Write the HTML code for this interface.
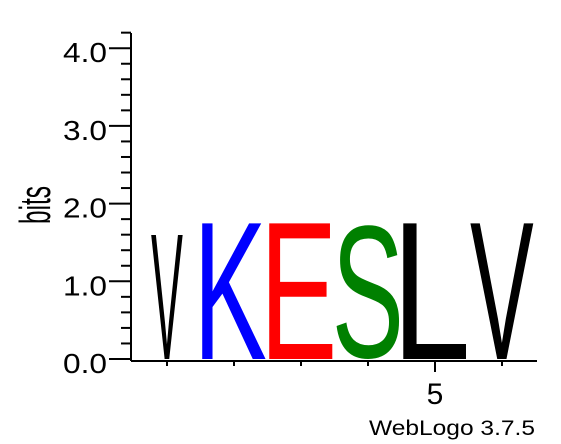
<!DOCTYPE html>
<html><head><meta charset="utf-8"><style>
html,body{margin:0;padding:0;background:#fff;width:561px;height:444px;overflow:hidden}
svg{display:block;font-family:"Liberation Sans",Arial,sans-serif}
</style></head><body>
<svg id="chart" width="561" height="444" viewBox="0 0 561 444">
<g id="axes"></g>
<g id="stacks"></g>
<text x="50" y="205" font-size="44" text-anchor="middle" textLength="38" lengthAdjust="spacingAndGlyphs" transform="rotate(-90 50 205)">bits</text>
<text x="369" y="435" font-size="21" textLength="166" lengthAdjust="spacingAndGlyphs">WebLogo 3.7.5</text>
</svg>
<script>
const positions=[1,2,3,4,5,6];
const letters=["V","K","E","S","L","V"];
const bits=[1.6,1.75,1.75,1.75,1.75,1.75];
const colors=["#000000","#0000ff","#ff0000","#008000","#000000","#000000"];
const yTicks=[0,1,2,3,4];
const yTickLabels=["0.0","1.0","2.0","3.0","4.0"];
const xLabeled=[5];

const NS="http://www.w3.org/2000/svg";
const x0=167,dx=67,y0=359,py=77.7;
function xScale(p){return x0+dx*(p-1);}
function yScale(b){return y0-b*py;}
function mk(tag,attrs,parent){const e=document.createElementNS(NS,tag);for(const k in attrs)e.setAttribute(k,attrs[k]);parent.appendChild(e);return e;}
const axes=document.getElementById('axes');
const stacks=document.getElementById('stacks');
let yl=mk('line',{x1:131,x2:131,y1:33,y2:361,stroke:'#000','stroke-width':2},axes);


for(let b=0;b<=4.2001;b+=0.2){
  const major=Math.abs(b-Math.round(b))<1e-6;
  const t=mk('line',{x1:major?109:121,x2:131,y1:yScale(b),y2:yScale(b),stroke:'#000','stroke-width':2},axes);
  
  
}
yTicks.forEach((v,i)=>{
  const t=mk('text',{x:63,y:yScale(v)+14,'font-size':28,textLength:44,lengthAdjust:'spacingAndGlyphs'},axes);
  t.textContent=yTickLabels[i];
  
  
});
let xl=mk('line',{x1:131,x2:537,y1:361,y2:361,stroke:'#000','stroke-width':2},axes);


positions.forEach(p=>{
  const lab=xLabeled.includes(p);
  const t=mk('line',{x1:xScale(p),x2:xScale(p),y1:361,y2:lab?372:366,stroke:'#000','stroke-width':2},axes);
  
  
  if(lab){
    const l=mk('text',{x:xScale(p),y:404,'font-size':30,'text-anchor':'middle'},axes);
    l.textContent=String(p);
    
    
  }
});
const cv=document.createElement('canvas').getContext('2d');
cv.font='100px "Liberation Sans", Arial, sans-serif';
positions.forEach((p,i)=>{
  const ch=letters[i];
  const m=cv.measureText(ch);
  const L=m.actualBoundingBoxLeft,R=m.actualBoundingBoxRight,A=m.actualBoundingBoxAscent,D=m.actualBoundingBoxDescent||0;
  const inkW=(R+L)||60,inkH=(A+D)||72;
  const w=(i===0)?32:64;
  const h=y0-yScale(bits[i]);
  const sx=w/inkW,sy=h/inkH;
  const cx=xScale(p);
  const left=cx-w/2;
  const t=mk('text',{x:0,y:0,'font-size':100,fill:colors[i],
    transform:`translate(${left+L*sx},${y0-D*sy}) scale(${sx},${sy})`},stacks);
  t.textContent=ch;
  
  
});
</script>
</body></html>
